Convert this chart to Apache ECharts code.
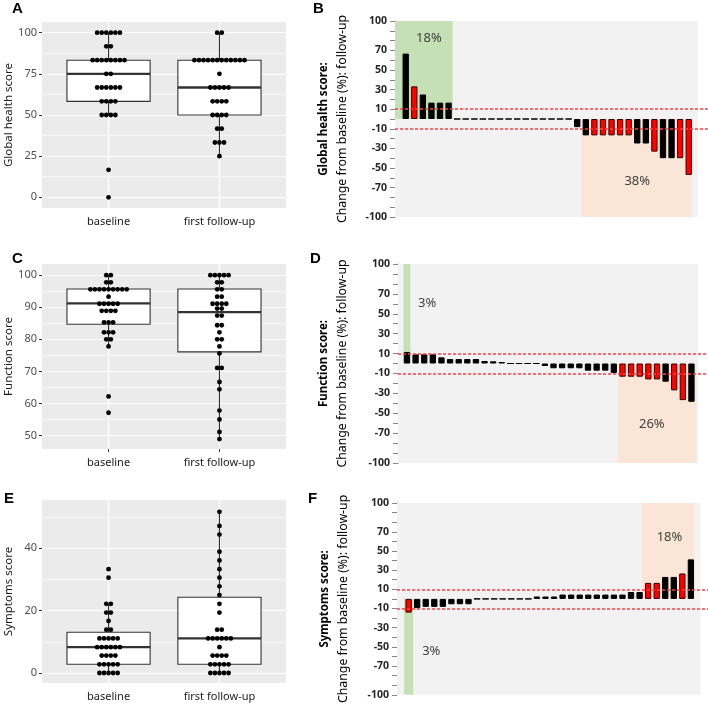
<!DOCTYPE html>
<html><head><meta charset="utf-8">
<script src="https://cdn.jsdelivr.net/npm/echarts@6/dist/echarts.min.js"></script>
<style>html,body{margin:0;padding:0;background:#fff}#c{width:708px;height:705px}</style>
</head><body><div id="c"></div>
<script>
// ---------------- DATA ----------------
const boxCats = ['baseline', 'first follow-up'];

// Panel A: Global health score (dot values)
const ghBaseline = [100,100,100,100,100,100, 91.7,91.7, 83.3,83.3,83.3,83.3,83.3,83.3,83.3,83.3, 75,75,
  66.7,66.7,66.7,66.7,66.7,66.7, 58.3,58.3,58.3,58.3, 50,50,50,50, 16.7, 0];
const ghFollowUp = [100,100, 83.3,83.3,83.3,83.3,83.3,83.3,83.3,83.3,83.3,83.3,83.3,83.3, 75,
  66.7,66.7,66.7,66.7,66.7, 58.3,58.3,58.3,58.3, 50,50,50,50, 41.7,41.7, 33.3,33.3,33.3, 25];
// box stats: [lower whisker, Q1, median, Q3, upper whisker]
const ghBoxBaseline = [50, 58.3, 75, 83.3, 100];
const ghBoxFollowUp = [25, 50, 66.7, 83.3, 100];
const ghTicks = [0, 25, 50, 75, 100];
const ghMinor = [12.5, 37.5, 62.5, 87.5];

// Panel C: Function score
const fnBaseline = [100,100, 97.8,97.8, 95.6,95.6,95.6,95.6,95.6,95.6,95.6,95.6,95.6, 93.3,
  91.1,91.1,91.1,91.1,91.1, 88.9,88.9,88.9,88.9, 85.3,85.3,85.3, 82.2,82.2,82.2, 80,80, 77.8, 62.2, 57.1];
const fnFollowUp = [100,100,100,100,100, 97.8,97.8, 95.6,95.6, 93.3,93.3, 91.1,91.1,91.1,91.1, 89.6,89.6,
  87.4,87.4, 84.4,84.4, 82.2, 80,80, 77.8, 75.6, 71.1,71.1, 66.7, 64.4, 57.8, 55, 51.1, 48.9];
const fnBoxBaseline = [77.8, 84.7, 91.2, 95.7, 100];
const fnBoxFollowUp = [48.9, 76.1, 88.5, 95.7, 100];
const fnTicks = [50, 60, 70, 80, 90, 100];
const fnMinor = [55, 65, 75, 85, 95];

// Panel E: Symptoms score
const syBaseline = [33.3, 30.6, 22.2,22.2, 19.4,19.4, 16.7, 13.9,13.9, 11.1,11.1,11.1,11.1,11.1,
  8.3,8.3,8.3,8.3,8.3,8.3, 5.6,5.6,5.6,5.6, 2.8,2.8,2.8,2.8,2.8, 0,0,0,0,0];
const syFollowUp = [51.7, 47.2, 44.4, 38.9, 36.1, 33.3, 30.6, 27.8, 25, 22.2, 19.4, 13.9,13.9,
  11.1,11.1,11.1,11.1,11.1,11.1, 8.3, 5.6,5.6,5.6,5.6, 2.8,2.8,2.8,2.8,2.8, 0,0,0,0,0];
const syBoxBaseline = [0, 2.8, 8.3, 13.1, 22.2];
const syBoxFollowUp = [0, 2.8, 11.1, 24.3, 51.7];
const syTicks = [0, 20, 40];
const syMinor = [10, 30, 50];

// Waterfalls: change from baseline (%), one bar per patient (sorted)
const wfTicks = [100, 70, 50, 30, 10, -10, -30, -50, -70, -100];
const wfThresholds = [10, -10];

const ghChange = [66.7, 33.3, 25, 16.7, 16.7, 16.7, 0,0,0,0,0,0,0,0,0,0,0,0,0,0,
  -8.3, -16.7, -16.7, -16.7, -16.7, -16.7, -16.7, -25, -25, -33.3, -40, -40, -40, -57.1];
const ghRed = [0,1,0,0,0,0, 0,0,0,0,0,0,0,0,0,0,0,0,0,0, 0,0,1,1,1,1,1,0,0,1,0,0,1,1];
const ghPct = ['18%', '38%'];

const fnChange = [11.6, 9.2, 9.2, 9.2, 6.2, 4.5, 4.5, 4.5, 4.5, 2.5, 2.2, 1.5, 0, 0, 0, 0,
  -2.5, -4.8, -4.8, -4.8, -4.8, -7.2, -7.2, -7.2, -9.5,
  -13.3, -13.3, -13.3, -16, -16, -18.3, -27, -36.8, -38.5];
const fnRed = [0,0,0,0,0,0,0,0,0,0,0,0,0,0,0,0, 0,0,0,0,0,0,0,0,0, 1,1,1,1,1,0,1,1,0];
const fnPct = ['3%', '26%'];

const syChange = [-14.3, -9.7, -8.3, -8.3, -8.3, -5.6, -5.6, -5.6, 0,0,0,0,0,0,0,
  2.5, 2.5, 2.5, 4.5, 4.5, 4.5, 4.5, 4.5, 4.5, 4.5, 4.5, 7.2, 7.2,
  16.7, 16.7, 22.9, 22.9, 26.5, 41.2];
const syRed = [1,0,0,0,0,0,0,0,0,0,0,0,0,0,0, 0,0,0,0,0,0,0,0,0,0,0,0,0, 1,1,0,0,1,0];
const syPct = ['3%', '18%'];

// ---------------- LAYOUT / STYLE ----------------
const FONT = 'Noto Sans';
const NARROW = '"Liberation Sans Narrow", "Noto Sans"';
const DOT_STEP = 0.041, DOT_SIZE = 4.8, BOX_HALF = 0.375;

const leftPanels = [
  {grid:{left:42, top:22, width:244, height:186}, yMin:-6.5, yMax:106.5, ticks:ghTicks, minor:ghMinor,
   title:'Global health score', base:ghBaseline, follow:ghFollowUp, boxB:ghBoxBaseline, boxF:ghBoxFollowUp},
  {grid:{left:42, top:264, width:244, height:185}, yMin:45.8, yMax:103.5, ticks:fnTicks, minor:fnMinor,
   title:'Function score', base:fnBaseline, follow:fnFollowUp, boxB:fnBoxBaseline, boxF:fnBoxFollowUp},
  {grid:{left:42, top:500, width:244, height:183}, yMin:-3.2, yMax:55.5, ticks:syTicks, minor:syMinor,
   title:'Symptoms score', base:syBaseline, follow:syFollowUp, boxB:syBoxBaseline, boxF:syBoxFollowUp}
];

const GREEN = '#c5e0b4', ORANGE = '#fbe5d6', GREY = '#f2f2f2';
const rightPanels = [
  {grid:{left:395, top:21, width:313, height:196}, xMin:-1.25, xMax:35.25, greyEnd:34.08,
   bold:'Global health score:', values:ghChange, red:ghRed, pct:ghPct,
   green:[[-1.25, 0], [5.48, 100]], orange:[[20.45, -100], [33.35, 0]],
   pctPos:[[2.7, 82], [27, -64]], nameGap:44},
  {grid:{left:398, top:264, width:310, height:199}, xMin:-1.04, xMax:34.92, greyEnd:33.79,
   bold:'Function score:', values:fnChange, red:fnRed, pct:fnPct,
   green:[[-0.4, 0], [0.4, 100]], orange:[[24.48, -100], [33.56, 0]],
   pctPos:[[2.35, 61], [28.4, -61]], nameGap:47},
  {grid:{left:397, top:503, width:311, height:196}, xMin:-1.36, xMax:35.0, greyEnd:34.12,
   bold:'Symptoms score:', values:syChange, red:syRed, pct:syPct,
   green:[[-0.53, -100], [0.53, 0]], orange:[[27.3, 0], [33.4, 100]],
   pctPos:[[2.65, -55], [30.5, 64]], nameGap:45}
];

function dotData(values, xc) {
  const counts = new Map();
  values.forEach(v => counts.set(v, (counts.get(v) || 0) + 1));
  const out = [];
  counts.forEach((n, v) => {
    for (let j = 0; j < n; j++) out.push([xc + (j - (n - 1) / 2) * DOT_STEP, v]);
  });
  return out;
}

function renderBox(params, api) {
  const x = api.value(0);
  const lo = api.coord([x, api.value(1)]);
  const q1 = api.coord([x, api.value(2)]);
  const md = api.coord([x, api.value(3)]);
  const q3 = api.coord([x, api.value(4)]);
  const hi = api.coord([x, api.value(5)]);
  const l = api.coord([x - BOX_HALF, api.value(3)])[0];
  const r = api.coord([x + BOX_HALF, api.value(3)])[0];
  const st = {stroke:'#333333', lineWidth:1.1};
  return {type:'group', children:[
    {type:'line', shape:{x1:lo[0], y1:lo[1], x2:q1[0], y2:q1[1]}, style:st},
    {type:'line', shape:{x1:q3[0], y1:q3[1], x2:hi[0], y2:hi[1]}, style:st},
    {type:'rect', shape:{x:l, y:q3[1], width:r - l, height:q1[1] - q3[1]}, style:{fill:'#ffffff', stroke:'#333333', lineWidth:1.1}},
    {type:'line', shape:{x1:l, y1:md[1], x2:r, y2:md[1]}, style:{stroke:'#333333', lineWidth:2.3}}
  ]};
}

const grids = [], xAxes = [], yAxes = [], series = [];

leftPanels.forEach((p, i) => {
  grids.push(Object.assign({show:true, backgroundColor:'#ebebeb', borderWidth:0}, p.grid));
  xAxes.push({type:'value', gridIndex:i, min:0.4, max:2.6,
    axisLine:{show:false}, splitLine:{show:false},
    axisTick:{show:true, length:3, lineStyle:{color:'#333333'}, customValues:[1, 2]},
    axisLabel:{customValues:[1, 2], formatter:v => boxCats[Math.round(v) - 1], color:'#1a1a1a',
      fontFamily:FONT, fontSize:11, margin:8}});
  yAxes.push({type:'value', gridIndex:i, min:p.yMin, max:p.yMax,
    axisLine:{show:false}, splitLine:{show:false},
    axisTick:{show:true, length:3, lineStyle:{color:'#333333'}, customValues:p.ticks},
    axisLabel:{customValues:p.ticks, color:'#4d4d4d', fontFamily:FONT, fontSize:11, margin:5},
    name:p.title, nameLocation:'middle', nameRotate:90, nameGap:27,
    nameTextStyle:{fontFamily:FONT, fontSize:11.5, color:'#1a1a1a'}});
  const gl = [];
  p.minor.forEach(v => gl.push({yAxis:v, lineStyle:{color:'#ffffff', width:0.6, type:'solid'}}));
  p.ticks.forEach(v => gl.push({yAxis:v, lineStyle:{color:'#ffffff', width:1.2, type:'solid'}}));
  [1, 2].forEach(v => gl.push({xAxis:v, lineStyle:{color:'#ffffff', width:1.2, type:'solid'}}));
  series.push({type:'line', xAxisIndex:i, yAxisIndex:i, data:[], z:1, silent:true,
    markLine:{silent:true, z:1, symbol:['none','none'], label:{show:false}, animation:false, data:gl}});
  series.push({type:'custom', xAxisIndex:i, yAxisIndex:i, z:2, renderItem:renderBox, silent:true,
    encode:{x:0, y:[1,2,3,4,5]},
    data:[[1].concat(p.boxB), [2].concat(p.boxF)]});
  series.push({type:'scatter', xAxisIndex:i, yAxisIndex:i, z:3, symbol:'circle', symbolSize:DOT_SIZE, silent:true,
    itemStyle:{color:'#000000', opacity:1},
    data:dotData(p.base, 1).concat(dotData(p.follow, 2))});
});

rightPanels.forEach((p, k) => {
  const i = k + 3;
  grids.push(Object.assign({show:false}, p.grid));
  xAxes.push({type:'value', gridIndex:i, min:p.xMin, max:p.xMax, show:false});
  yAxes.push({type:'value', gridIndex:i, min:-100, max:100, interval:10,
    axisLine:{show:true, onZero:false, lineStyle:{color:'#868686', width:1}},
    axisTick:{show:true, length:5, lineStyle:{color:'#868686'}},
    splitLine:{show:false},
    axisLabel:{formatter:v => wfTicks.indexOf(v) >= 0 ? String(v) : '', color:'#262626',
      fontFamily:FONT, fontWeight:'bold', fontSize:10.5, margin:8},
    name:'{b|' + p.bold + '}\n{n|Change from baseline (%): follow-up}',
    nameLocation:'middle', nameRotate:90, nameGap:p.nameGap,
    nameTextStyle:{rich:{
      b:{fontFamily:NARROW, fontWeight:'bold', fontSize:11.5, color:'#000000', lineHeight:18},
      n:{fontFamily:FONT, fontSize:12.3, color:'#000000', lineHeight:18}}}});
  series.push({type:'line', xAxisIndex:i, yAxisIndex:i, data:[], z:1, silent:true,
    markArea:{silent:true, z:1, animation:false, data:[
      [{xAxis:p.xMin, yAxis:-100, itemStyle:{color:GREY}}, {xAxis:p.greyEnd, yAxis:100}],
      [{xAxis:p.green[0][0], yAxis:p.green[0][1], itemStyle:{color:GREEN}}, {xAxis:p.green[1][0], yAxis:p.green[1][1]}],
      [{xAxis:p.orange[0][0], yAxis:p.orange[0][1], itemStyle:{color:ORANGE}}, {xAxis:p.orange[1][0], yAxis:p.orange[1][1]}]
    ]}});
  series.push({type:'bar', xAxisIndex:i, yAxisIndex:i, z:2, barWidth:6.3, silent:true,
    data:p.values.map((v, j) => ({value:[j, v], itemStyle: p.red[j]
      ? {color:'#ff0000', borderColor:'#3a0000', borderWidth:1}
      : {color:'#000000', borderColor:'#000000', borderWidth:1}}))});
  series.push({type:'line', xAxisIndex:i, yAxisIndex:i, data:[], z:3, silent:true,
    markLine:{silent:true, z:5, symbol:['none','none'], label:{show:false}, animation:false,
      lineStyle:{color:'#ff4040', width:1.5, type:[3, 2]},
      data:wfThresholds.map(v => ({yAxis:v, lineStyle:{color:'#ff4040', width:1.5, type:[3, 2]}}))},
    markPoint:{silent:true, z:5, animation:false, symbol:'circle', symbolSize:0,
      label:{show:true, position:'inside', formatter:q => q.name, fontFamily:FONT, fontSize:13, color:'#404040'},
      data:p.pct.map((t, j) => ({name:t, coord:p.pctPos[j]}))}});
});

const letters = [['A', 12, 1], ['B', 313, 1], ['C', 12, 251], ['D', 310, 251], ['E', 4, 491], ['F', 308, 491]];

const chart = echarts.init(document.getElementById('c'), null, {renderer:'canvas'});
chart.setOption({
  animation:false,
  backgroundColor:'#ffffff',
  grid:grids, xAxis:xAxes, yAxis:yAxes, series:series,
  graphic:letters.map(l => ({type:'text', left:l[1], top:l[2],
    style:{text:l[0], font:'bold 15px "Liberation Sans"', fill:'#000000'}}))
});
</script></body></html>
